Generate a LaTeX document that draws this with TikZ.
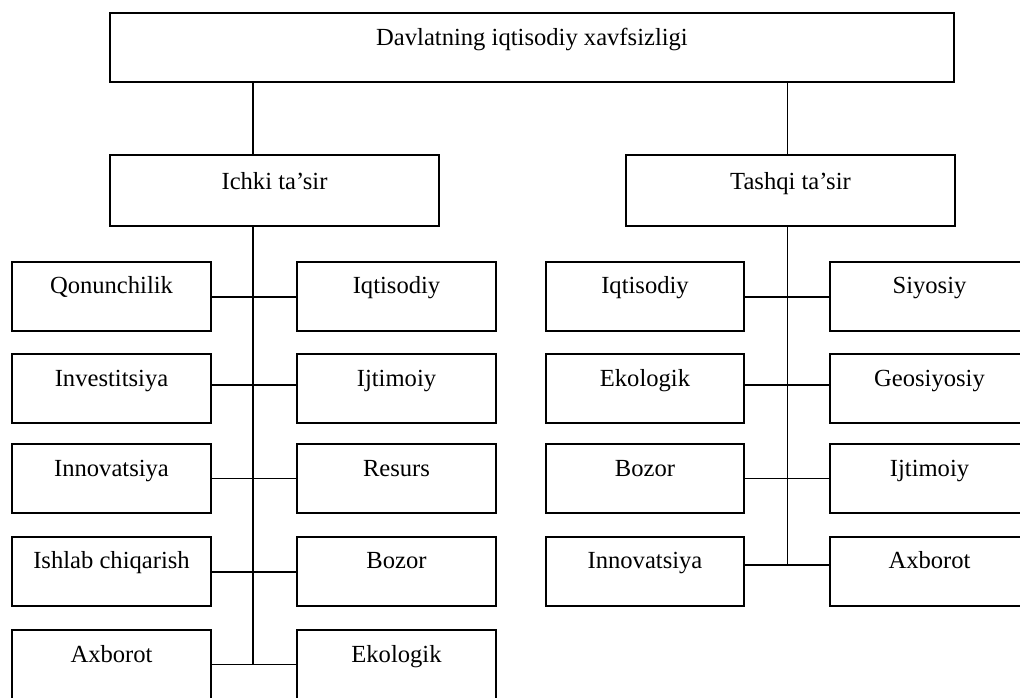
\documentclass[tikz,border=0pt]{standalone}
\usepackage{fontspec}
\setmainfont{Liberation Serif}
\usetikzlibrary{calc}

\begin{document}
\begin{tikzpicture}[%
      x=0.75pt, y=-0.75pt,
      font=\fontsize{18.45pt}{22pt}\selectfont,
      box/.style={draw, line width=1.5pt, inner sep=0pt, minimum width=#1,
        text height=24pt, text depth=27.75pt},
      box/.default=149.25pt,
      head/.style={box=246.75pt, text height=26.25pt, text depth=27pt},
      link/.style={line width=1pt},
      ]
      \path[use as bounding box, clip] (0,0) rectangle (1020,698);

      \node[box=633pt, text height=24.75pt, text depth=27pt] (davlat) at (532,47.5) {Davlatning iqtisodiy xavfsizligi};
      \node[head] (ichki) at (274.5,190.5) {Ichki ta’sir};
      \node[head] (tashqi) at (790.5,190.5) {Tashqi ta’sir};

      % ichki ta'sir
      \foreach \i/\y/\a/\b in {1/296.5/Qonunchilik/Iqtisodiy, 2/388.5/Investitsiya/Ijtimoiy,
          3/478.5/Innovatsiya/Resurs, 4/571/Ishlab chiqarish/Bozor, 5/664.5/Axborot/Ekologik} {
        \node[box] (ia\i) at (111.5,\y) {\a};
        \node[box] (ib\i) at (396.5,\y) {\b};
      }

      % tashqi ta'sir
      \foreach \i/\y/\a/\b in {1/296.5/Iqtisodiy/Siyosiy, 2/388.5/Ekologik/Geosiyosiy,
          3/478.5/Bozor/Ijtimoiy, 4/571/Innovatsiya/Axborot} {
        \node[box=148.5pt] (ta\i) at (645,\y) {\a};
        \node[box] (tb\i) at (929.5,\y) {\b};
      }

      \coordinate (itrunk) at (253,0);
      \coordinate (ttrunk) at (787.5,0);

      \draw[link] (davlat.south -| itrunk) -- (ichki.north -| itrunk);
      \draw[link] (davlat.south -| ttrunk) -- (tashqi.north -| ttrunk);
      \draw[link] (ichki.south -| itrunk) -- (itrunk |- ia5.east);
      \draw[link] (tashqi.south -| ttrunk) -- ($(ttrunk |- ta4.east)+(0,-6)$);

      \foreach \i/\d in {1/0.5, 2/-3.5, 3/0, 4/1, 5/0}
        \draw[link] ($(ia\i.east)+(0,\d)$) -- ($(ib\i.west)+(0,\d)$);
      \foreach \i/\d in {1/0.5, 2/-3.5, 3/0, 4/-6}
        \draw[link] ($(ta\i.east)+(0,\d)$) -- ($(tb\i.west)+(0,\d)$);
\end{tikzpicture}
\end{document}
